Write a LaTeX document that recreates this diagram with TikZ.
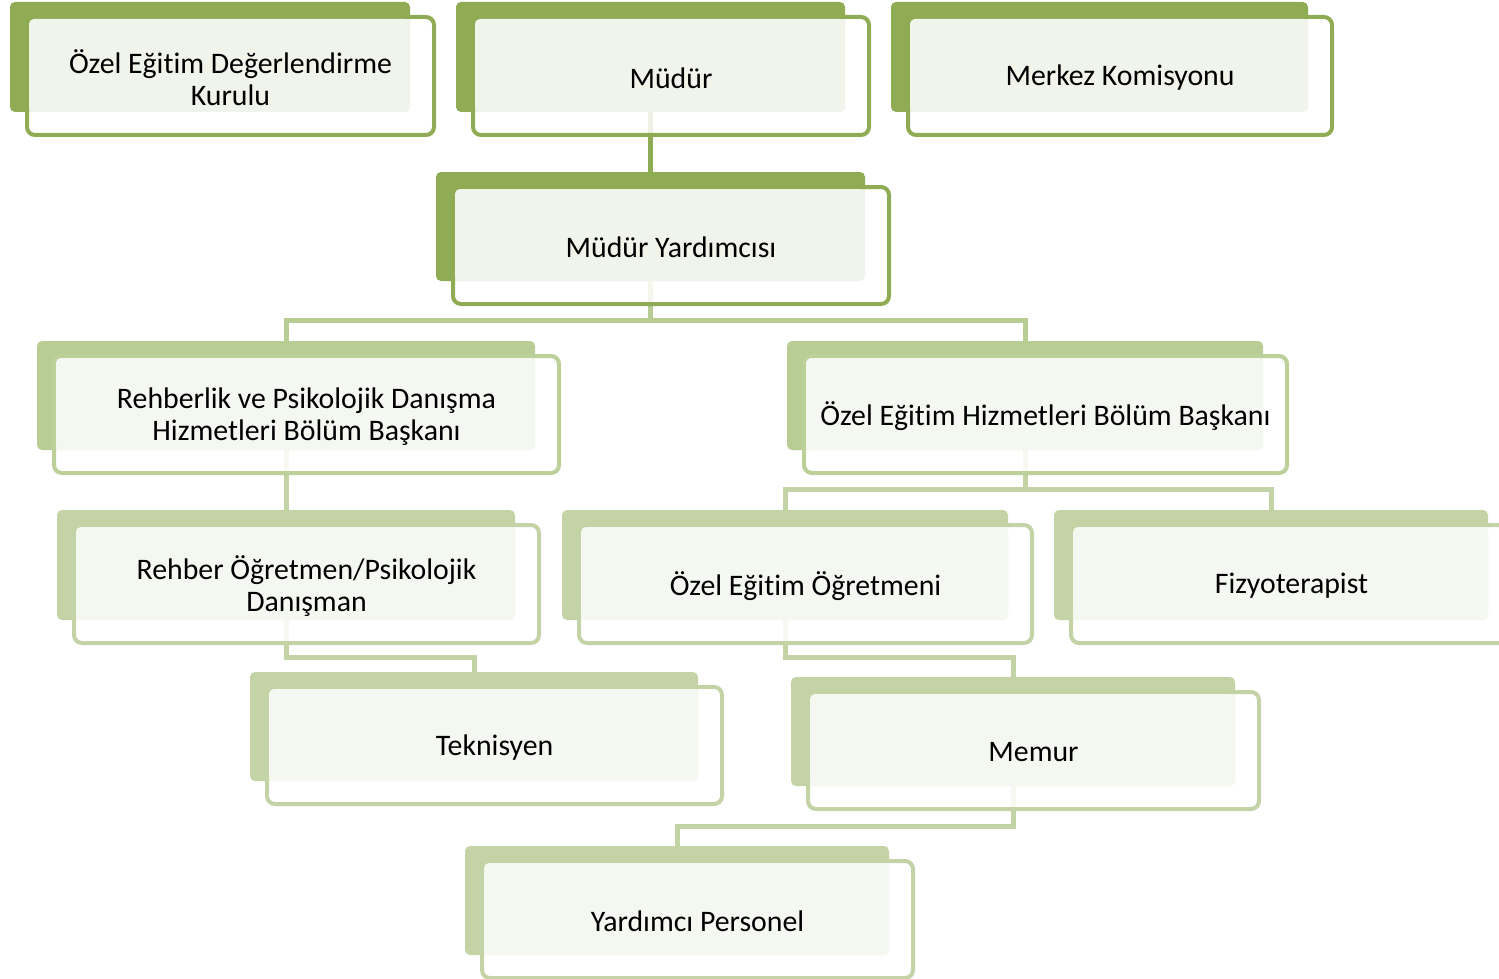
\documentclass[tikz,border=0pt]{standalone}
\usepackage{fontspec}
\setmainfont{Carlito}[Ligatures={NoCommon}]
\usetikzlibrary{fit}
\definecolor{dkg}{HTML}{8FAC54}
\definecolor{mdg}{HTML}{B8CD93}
\definecolor{mdl}{HTML}{BCD09A}
\definecolor{lgg}{HTML}{C3D3A6}
\definecolor{fillA}{HTML}{F1F4EA}
\definecolor{fillB}{HTML}{F5F8F1}
\tikzset{
  bkA/.style={fill=dkg, rounded corners=2.5pt, inner sep=0pt, draw=none},
  bkB/.style={fill=mdg, rounded corners=2.5pt, inner sep=0pt, draw=none},
  bkC/.style={fill=lgg, rounded corners=2.5pt, inner sep=0pt, draw=none},
  olA/.style={draw=dkg, line width=2pt, fill=white, fill opacity=0.85, rounded corners=4pt, inner sep=0pt},
  olB/.style={draw=mdl, line width=2pt, fill=white, fill opacity=0.85, rounded corners=4pt, inner sep=0pt},
  olC/.style={draw=lgg, line width=2pt, fill=white, fill opacity=0.85, rounded corners=4pt, inner sep=0pt},
  ltA/.style={fill=fillA, rounded corners=2.5pt},
  ltB/.style={fill=fillB, rounded corners=2.5pt},
  ltC/.style={fill=fillB, rounded corners=2.5pt},
  txt/.style={align=center, font=\fontsize{14.9}{16}\selectfont, text=black, inner sep=0pt},
  connA/.style={draw=dkg, line width=2.5pt},
  connB/.style={draw=mdg, line width=2.5pt},
  connC/.style={draw=lgg, line width=2.5pt},
}
\newcommand\obox[7]{%
  \node[bk#7, fit={(#2,#3)(#4,#5)}] (#1b) {};
  \node[ol#7, fit={({#2+17},{#3+15})({#4+24},{#5+23})}] (#1) {};
  \fill[lt#7] ({#2+19},{#3+17}) rectangle (#4,#5);
  \node[txt] (#1t) at ([yshift=-1pt]#1.center) {#6};
}
\begin{document}
\begin{tikzpicture}[x=0.5pt,y=-0.5pt]
\useasboundingbox (0,0) rectangle (1499,979);
\clip (0,0) rectangle (1499,979);
% connector end points (back-rect centres)
\coordinate (mudurb-s) at (650,112);
\coordinate (myb-n) at (650,172);
\coordinate (myb-s) at (650,281);
\coordinate (rpb-n) at (286,341);
\coordinate (rpb-s) at (286,450);
\coordinate (oeb-n) at (1025,341);
\coordinate (oeb-s) at (1025,450);
\coordinate (rob-n) at (286,510);
\coordinate (rob-s) at (286,620);
\coordinate (ooeb-n) at (785,510);
\coordinate (ooeb-s) at (785,620);
\coordinate (fzb-n) at (1271,510);
\coordinate (tkb-n) at (474,672);
\coordinate (mmb-n) at (1013,677);
\coordinate (mmb-s) at (1013,786);
\coordinate (ypb-n) at (677,846);
\draw[connA] (mudurb-s) -- (myb-n);
\draw[connB] (myb-s) -- (650,320) -| (rpb-n);
\draw[connB] (650,320) -| (oeb-n);
\draw[connC] (rpb-s) -- (rob-n);
\draw[connC] (oeb-s) -- (1025,489) -| (ooeb-n);
\draw[connC] (1025,489) -| (fzb-n);
\draw[connC] (rob-s) -- (286,657) -| (tkb-n);
\draw[connC] (ooeb-s) -- (785,657) -| (mmb-n);
\draw[connC] (mmb-s) -- (1013,826) -| (ypb-n);
% boxes
\obox{oedk}{10}{2}{410}{112}{Özel Eğitim Değerlendirme\\Kurulu}{A}
\obox{mudur}{456}{2}{845}{112}{Müdür}{A}
\obox{merkez}{891}{2}{1308}{112}{Merkez Komisyonu}{A}
\obox{my}{436}{172}{865}{281}{Müdür Yardımcısı}{A}
\obox{rp}{37}{341}{535}{450}{Rehberlik ve Psikolojik Danışma\\Hizmetleri Bölüm Başkanı}{B}
\obox{oe}{787}{341}{1263}{450}{Özel Eğitim Hizmetleri Bölüm Başkanı}{B}
\obox{ro}{57}{510}{515}{620}{Rehber Öğretmen/Psikolojik\\Danışman}{C}
\obox{ooe}{562}{510}{1008}{620}{Özel Eğitim Öğretmeni}{C}
\obox{fz}{1054}{510}{1488}{620}{Fizyoterapist}{C}
\obox{tk}{250}{672}{698}{781}{Teknisyen}{C}
\obox{mm}{791}{677}{1235}{786}{Memur}{C}
\obox{yp}{465}{846}{889}{955}{Yardımcı Personel}{C}
\end{tikzpicture}
\end{document}
